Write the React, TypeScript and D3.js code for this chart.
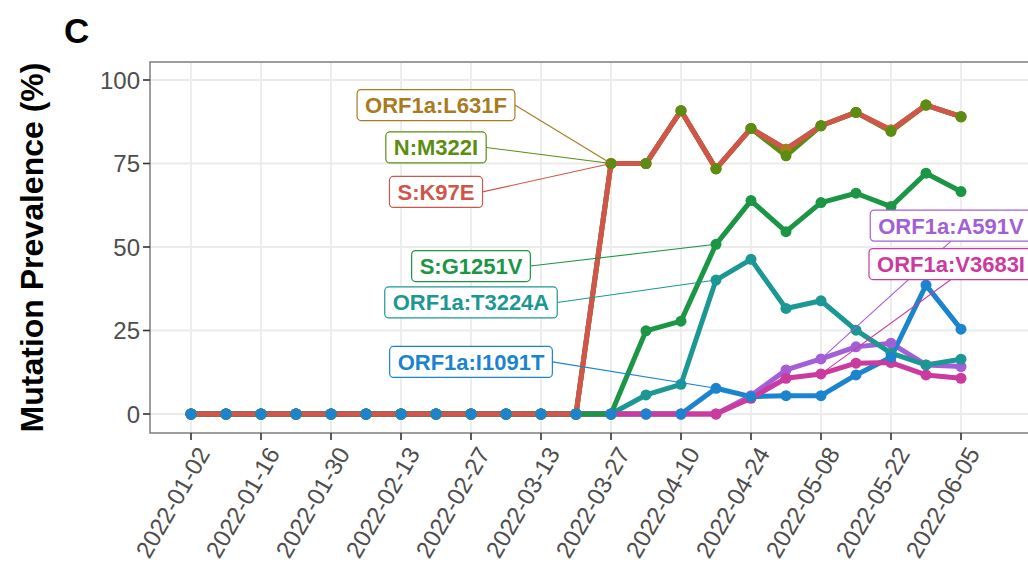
import { useEffect, useRef } from 'react';
import * as d3 from 'd3';

// weekly collection dates
const dates = [
    '2022-01-02', '2022-01-09', '2022-01-16', '2022-01-23', '2022-01-30', '2022-02-06',
    '2022-02-13', '2022-02-20', '2022-02-27', '2022-03-06', '2022-03-13', '2022-03-20',
    '2022-03-27', '2022-04-03', '2022-04-10', '2022-04-17', '2022-04-24', '2022-05-01',
    '2022-05-08', '2022-05-15', '2022-05-22', '2022-05-29', '2022-06-05'
];

const tickDates = [
    '2022-01-02', '2022-01-16', '2022-01-30', '2022-02-13', '2022-02-27', '2022-03-13',
    '2022-03-27', '2022-04-10', '2022-04-24', '2022-05-08', '2022-05-22', '2022-06-05'
];
const yTicks = [0, 25, 50, 75, 100];

const mutations = [
    'N:M322I', 'ORF1a:A591V', 'ORF1a:I1091T', 'ORF1a:L631F',
    'ORF1a:T3224A', 'ORF1a:V3683I', 'S:G1251V', 'S:K97E'
];

const colors = ['#5b8d12', '#a35fd8', '#1c84cf', '#a87b1e', '#1b9893', '#cb3a9e', '#1b9645', '#d0564b'];

const nM322I = [0, 0, 0, 0, 0, 0, 0, 0, 0, 0, 0, 0, 75, 75, 90.8, 73.4, 85.5, 77.3, 86.3, 90.3, 84.6, 92.5, 89];
const orf1aA591V = [0, 0, 0, 0, 0, 0, 0, 0, 0, 0, 0, 0, 0, 0, 0, 0, 5.5, 13.2, 16.5, 20.1, 21.2, 14.7, 14.2];
const orf1aI1091T = [0, 0, 0, 0, 0, 0, 0, 0, 0, 0, 0, 0, 0, 0, 0, 7.7, 5.2, 5.5, 5.5, 11.7, 17, 38.6, 25.4];
const orf1aL631F = [0, 0, 0, 0, 0, 0, 0, 0, 0, 0, 0, 0, 75, 75, 90.8, 73.4, 85.5, 79.3, 86.3, 90.3, 85, 92.5, 89];
const orf1aT3224A = [0, 0, 0, 0, 0, 0, 0, 0, 0, 0, 0, 0, 0, 5.7, 8.9, 40.1, 46.3, 31.6, 33.9, 25.1, 18.2, 14.7, 16.4];
const orf1aV3683I = [0, 0, 0, 0, 0, 0, 0, 0, 0, 0, 0, 0, 0, 0, 0, 0, 4.7, 10.7, 12, 15.2, 15.4, 11.7, 10.7];
const sG1251V = [0, 0, 0, 0, 0, 0, 0, 0, 0, 0, 0, 0, 0, 24.9, 27.8, 50.8, 63.9, 54.6, 63.3, 66.1, 62.1, 72.1, 66.6];
const sK97E = [0, 0, 0, 0, 0, 0, 0, 0, 0, 0, 0, 0, 75, 75, 90.8, 73.4, 85.5, 79.3, 86.3, 90.3, 85, 92.5, 89];

const seriesValues = [nM322I, orf1aA591V, orf1aI1091T, orf1aL631F, orf1aT3224A, orf1aV3683I, sG1251V, sK97E];

// repelled label boxes: centre (date, value) and the point each one points at
const labelDates = ['2022-02-20', '2022-06-03', '2022-02-27', '2022-02-20', '2022-02-27', '2022-06-03', '2022-02-27', '2022-02-20'];
const labelValues = [79.8, 56.4, 15.6, 92.5, 33.4, 44.9, 44.3, 66.5];
const labelTargets = [12, 18, 15, 12, 15, 18, 15, 12];

// point layer draw order (indices into mutations)
const pointOrder = [7, 3, 1, 5, 4, 6, 0, 2];

const FONT = '"Liberation Sans", Arial, Helvetica, sans-serif';

const App = () => {
    const svgRef = useRef<SVGSVGElement>(null);

    useEffect(() => {
        if (!svgRef.current) return;
        const svg = d3.select(svgRef.current);
        svg.selectAll('*').remove();

        const width = 1028;
        const height = 567;
        const panel = { left: 150, top: 62, right: 1040, bottom: 433 };

        const parse = d3.utcParse('%Y-%m-%d');
        const x = d3.scaleUtc()
            .domain([parse('2022-01-02') as Date, parse('2022-06-05') as Date])
            .range([191, 961]);
        const y = d3.scaleLinear().domain([0, 100]).range([414, 80]);

        svg.attr('width', width).attr('height', height);

        svg.append('rect')
            .attr('width', width).attr('height', height)
            .attr('fill', 'white');

        // grid
        const grid = svg.append('g');
        grid.selectAll('.gx')
            .data(tickDates)
            .enter()
            .append('line')
            .attr('x1', d => x(parse(d) as Date))
            .attr('x2', d => x(parse(d) as Date))
            .attr('y1', panel.top)
            .attr('y2', panel.bottom)
            .attr('stroke', '#ebebeb')
            .attr('stroke-width', 1.8);
        grid.selectAll('.gy')
            .data(yTicks)
            .enter()
            .append('line')
            .attr('x1', panel.left)
            .attr('x2', panel.right)
            .attr('y1', d => y(d))
            .attr('y2', d => y(d))
            .attr('stroke', '#ebebeb')
            .attr('stroke-width', 1.8);

        // lines
        const line = d3.line<number>()
            .x((_, i) => x(parse(dates[i]) as Date))
            .y(d => y(d));

        svg.append('g')
            .selectAll('path')
            .data(seriesValues)
            .enter()
            .append('path')
            .attr('fill', 'none')
            .attr('stroke', (_, i) => colors[i])
            .attr('stroke-width', 5)
            .attr('stroke-linejoin', 'round')
            .attr('d', d => line(d));

        // points
        const pts = svg.append('g');
        pointOrder.forEach(s => {
            pts.append('g')
                .selectAll('circle')
                .data(seriesValues[s])
                .enter()
                .append('circle')
                .attr('cx', (_, i) => x(parse(dates[i]) as Date))
                .attr('cy', d => y(d))
                .attr('r', 5.5)
                .attr('fill', colors[s]);
        });

        // panel border
        svg.append('rect')
            .attr('x', panel.left)
            .attr('y', panel.top)
            .attr('width', panel.right - panel.left)
            .attr('height', panel.bottom - panel.top)
            .attr('fill', 'none')
            .attr('stroke', '#858585')
            .attr('stroke-width', 1.6);

        // y axis
        const yAxis = svg.append('g');
        yTicks.forEach(t => {
            yAxis.append('line')
                .attr('x1', panel.left - 7).attr('x2', panel.left)
                .attr('y1', y(t)).attr('y2', y(t))
                .attr('stroke', '#333').attr('stroke-width', 1.6);
            yAxis.append('text')
                .attr('x', panel.left - 10)
                .attr('y', y(t))
                .attr('dy', '0.36em')
                .attr('text-anchor', 'end')
                .attr('fill', '#4d4d4d')
                .style('font-family', FONT)
                .style('font-size', '24px')
                .text(t);
        });

        // x axis
        const xAxis = svg.append('g');
        tickDates.forEach(t => {
            const px = x(parse(t) as Date);
            xAxis.append('line')
                .attr('x1', px).attr('x2', px)
                .attr('y1', panel.bottom).attr('y2', panel.bottom + 7)
                .attr('stroke', '#333').attr('stroke-width', 1.6);
            xAxis.append('text')
                .attr('transform', `translate(${px},${panel.bottom + 9}) rotate(-60)`)
                .attr('dy', '0.95em')
                .attr('text-anchor', 'end')
                .attr('fill', '#4d4d4d')
                .style('font-family', FONT)
                .style('font-size', '24px')
                .text(t);
        });

        // axis title
        svg.append('text')
            .attr('transform', `translate(43,${(panel.top + panel.bottom) / 2}) rotate(-90)`)
            .attr('text-anchor', 'middle')
            .attr('fill', '#000')
            .style('font-family', FONT)
            .style('font-size', '32px')
            .style('font-weight', 'bold')
            .text('Mutation Prevalence (%)');

        // panel tag
        svg.append('text')
            .attr('x', 64)
            .attr('y', 43)
            .attr('fill', '#000')
            .style('font-family', FONT)
            .style('font-size', '35px')
            .style('font-weight', 'bold')
            .text('C');

        // repelled labels
        const labels = svg.append('g');
        mutations.forEach((m, i) => {
            const cx = x(parse(labelDates[i]) as Date);
            const cy = y(labelValues[i]);
            const tx = x(parse(dates[labelTargets[i]]) as Date);
            const ty = y(seriesValues[i][labelTargets[i]]);

            const g = labels.append('g');
            const text = g.append('text')
                .attr('x', cx)
                .attr('y', cy)
                .attr('dy', '0.36em')
                .attr('text-anchor', 'middle')
                .attr('fill', colors[i])
                .style('font-family', FONT)
                .style('font-size', '22px')
                .style('font-weight', 'bold')
                .text(m);
            const tw = (text.node() as SVGTextElement).getComputedTextLength();
            const bw = tw + 16;
            const bh = 31;
            const x1 = cx - bw / 2, x2 = cx + bw / 2;
            const y1 = cy - bh / 2, y2 = cy + bh / 2;

            // segment start: middle of the side facing the point
            const gapX = tx < x1 ? x1 - tx : tx > x2 ? tx - x2 : 0;
            const gapY = ty < y1 ? y1 - ty : ty > y2 ? ty - y2 : 0;
            let sx = cx, sy = cy;
            if (gapX >= gapY) {
                sx = tx < x1 ? x1 : x2;
            } else {
                sy = ty < y1 ? y1 : y2;
            }
            labels.insert('line', ':first-child')
                .attr('x1', sx).attr('y1', sy)
                .attr('x2', tx).attr('y2', ty)
                .attr('stroke', colors[i])
                .attr('stroke-width', 1.1);

            g.insert('rect', 'text')
                .attr('x', x1).attr('y', y1)
                .attr('width', bw).attr('height', bh)
                .attr('rx', 4)
                .attr('fill', 'white')
                .attr('stroke', colors[i])
                .attr('stroke-width', 1.2);
        });
    }, []);

    return (
        <div style={{ position: 'absolute', left: 0, top: 0, width: 1028, height: 567, overflow: 'hidden' }}>
            <svg ref={svgRef} role="img" aria-label="Mutation prevalence over time"></svg>
        </div>
    );
};

export default App;
